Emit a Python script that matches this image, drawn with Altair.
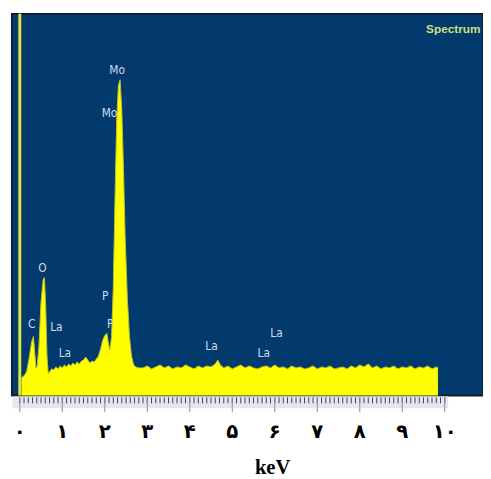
import altair as alt
import pandas as pd

# ---- data (energy in keV, counts in arbitrary units) ----
energy_kev = [
    0.04, 0.10, 0.16, 0.22, 0.28, 0.32, 0.35, 0.38, 0.41, 0.45, 0.50, 0.55, 0.58, 0.61, 0.64, 0.67,
    0.70, 0.75, 0.80, 0.85, 0.90, 0.95, 1.00, 1.05, 1.10, 1.15, 1.20, 1.25, 1.30, 1.35, 1.40, 1.45,
    1.50, 1.55, 1.60, 1.65, 1.70, 1.75, 1.80, 1.85, 1.90, 1.95, 2.00, 2.05, 2.09, 2.12, 2.16, 2.20,
    2.24, 2.28, 2.32, 2.36, 2.40, 2.44, 2.48, 2.53, 2.58, 2.63, 2.68, 2.73, 2.80,
    2.90, 3.00, 3.10, 3.20, 3.30, 3.40, 3.50, 3.60, 3.70, 3.80, 3.90, 4.00, 4.10, 4.20, 4.30, 4.40,
    4.50, 4.60, 4.66, 4.72, 4.80, 4.90, 5.00, 5.10, 5.20, 5.30, 5.40, 5.50, 5.60, 5.70, 5.80, 5.90,
    6.00, 6.10, 6.20, 6.30, 6.40, 6.50, 6.60, 6.70, 6.80, 6.90, 7.00, 7.10, 7.20, 7.30, 7.40, 7.50,
    7.60, 7.70, 7.80, 7.90, 8.00, 8.10, 8.20, 8.30, 8.40, 8.50, 8.60, 8.70, 8.80, 8.90, 9.00, 9.10,
    9.20, 9.30, 9.40, 9.50, 9.60, 9.70, 9.80, 9.84,
]
counts = [
    18, 20, 24, 38, 55, 60, 45, 28, 30, 50, 95, 118, 120, 90, 40, 22,
    24, 27, 26, 29, 27, 30, 28, 31, 29, 32, 30, 33, 31, 34, 32, 35,
    36, 39, 36, 33, 35, 34, 37, 40, 47, 56, 61, 63, 52, 46, 60, 110,
    200, 280, 315, 321, 290, 230, 160, 100, 60, 40, 31, 29, 28,
    28, 30, 27, 29, 31, 28, 30, 27, 29, 28, 31, 29, 27, 30, 28, 30,
    29, 32, 36, 31, 28, 30, 27, 29, 31, 28, 30, 28, 27, 29, 30, 28,
    31, 28, 29, 27, 30, 28, 29, 27, 28, 30, 27, 29, 28, 30, 27, 28,
    29, 27, 30, 28, 31, 29, 32, 28, 30, 27, 29, 28, 30, 27, 29, 28,
    30, 27, 29, 28, 30, 27, 29, 28,
]

peak_labels = ["Mo", "Mo", "O", "C", "La", "La", "P", "P", "La", "La", "La"]
label_kev = [2.29, 2.11, 0.53, 0.28, 0.86, 1.06, 2.01, 2.13, 4.51, 5.74, 6.04]
label_counts = [331, 287, 130, 73, 70, 43, 101, 73, 50, 43, 63]

tick_values = list(range(0, 11))
persian_digits = ["۰", "۱", "۲", "۳", "۴", "۵", "۶", "۷", "۸", "۹", "۱۰"]
minor_ticks = [round(i * 0.1, 2) for i in range(0, 101)]
x_title = "keV"

W, H = 479, 388
xscale = alt.Scale(domain=[-0.185, 10.9], nice=False, zero=False)
yscale = alt.Scale(domain=[0, 388], nice=False, zero=True)

spec_df = pd.DataFrame({"kev": energy_kev, "counts": counts})
lab_df = pd.DataFrame({"label": peak_labels, "kev": label_kev, "counts": label_counts})
minor_df = pd.DataFrame({"kev": minor_ticks})
major_df = pd.DataFrame({"kev": tick_values, "digit": persian_digits})
ruler_df = pd.DataFrame({"start": [-0.17], "end": [10.08]})

area = alt.Chart(spec_df).mark_area(
    color="#ffff00", opacity=1,
    line={"color": "#b8c030", "strokeWidth": 1},
).encode(
    x=alt.X("kev:Q", scale=xscale, axis=None),
    y=alt.Y("counts:Q", scale=yscale, axis=None),
)

ruler = alt.Chart(ruler_df).mark_rect(color="#e6e6ee").encode(
    x=alt.X("start:Q", scale=xscale, axis=None),
    x2="end:Q",
    y=alt.value(H + 1),
    y2=alt.value(H + 13),
)

minor = alt.Chart(minor_df).mark_rule(color="#3a3a7a", strokeWidth=1).encode(
    x=alt.X("kev:Q", scale=xscale, axis=None),
    y=alt.value(H + 2),
    y2=alt.value(H + 8),
)

major = alt.Chart(major_df).mark_rule(color="#8c8c9c", strokeWidth=1).encode(
    x=alt.X("kev:Q", scale=xscale, axis=None),
    y=alt.value(H + 2),
    y2=alt.value(H + 17),
)

digits = alt.Chart(major_df).mark_text(
    font="DejaVu Sans", fontSize=20, fontWeight="bold", color="#000000", baseline="middle",
).encode(
    x=alt.X("kev:Q", scale=xscale, axis=None),
    y=alt.value(H + 37),
    text="digit:N",
)

title = alt.Chart(pd.DataFrame({"kev": [5.95], "t": [x_title]})).mark_text(
    font="Liberation Serif", fontSize=21, fontWeight="bold", color="#000000",
    baseline="alphabetic",
).encode(
    x=alt.X("kev:Q", scale=xscale, axis=None),
    y=alt.value(H + 80),
    text="t:N",
)

zero_line = alt.Chart(pd.DataFrame({"kev": [0.0]})).mark_rule(
    color="#dfe63c", strokeWidth=3
).encode(
    x=alt.X("kev:Q", scale=xscale, axis=None),
    y=alt.value(0),
    y2=alt.value(H),
)

labels = alt.Chart(lab_df).mark_text(
    font="Liberation Sans Narrow, DejaVu Sans Condensed, Liberation Sans, sans-serif",
    fontSize=12, color="#d2dae8",
).encode(
    x=alt.X("kev:Q", scale=xscale, axis=None),
    y=alt.Y("counts:Q", scale=yscale, axis=None),
    text="label:N",
)

spectrum_title = alt.Chart(pd.DataFrame({"kev": [9.56], "counts": [373], "t": ["Spectrum"]})).mark_text(
    font="Liberation Sans", fontSize=12, fontWeight="bold", color="#cfe07a", align="left",
).encode(
    x=alt.X("kev:Q", scale=xscale, axis=None),
    y=alt.Y("counts:Q", scale=yscale, axis=None),
    text="t:N",
)

chart = alt.layer(area, ruler, minor, major, digits, title, zero_line, labels, spectrum_title).properties(
    width=W, height=H,
    autosize=alt.AutoSizeParams(type="none"),
    padding={"left": 4, "top": 2, "right": 0, "bottom": 81},
).configure(
    background="#ffffff",
).configure_view(
    fill="#023a6e", stroke="#0e1e30", strokeWidth=2,
)

chart.save("out.html", embed_options={"renderer": "svg", "actions": False})
